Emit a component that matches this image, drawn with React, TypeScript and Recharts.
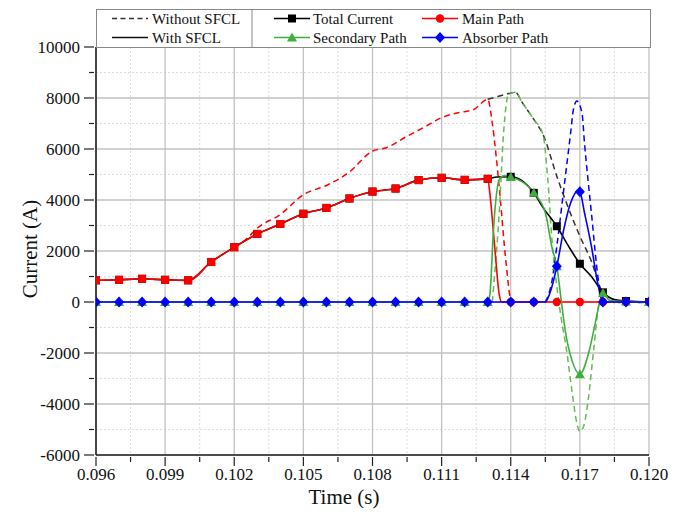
import React from "react";
import { CartesianGrid, Line, LineChart, XAxis, YAxis } from "recharts";

// time (s) / current (A) pairs
const totalWith: [number, number][] = [
  [0.096, 850], [0.097, 870], [0.098, 910], [0.099, 870], [0.1, 850], [0.101, 1570],
  [0.102, 2150], [0.103, 2670], [0.104, 3060], [0.105, 3460], [0.106, 3690], [0.107, 4060],
  [0.108, 4330], [0.109, 4450], [0.11, 4780], [0.111, 4870], [0.112, 4790], [0.113, 4830],
  [0.1134, 4900], [0.114, 4910], [0.115, 4280], [0.1154, 3700], [0.116, 2970], [0.1165, 2200],
  [0.117, 1500], [0.1175, 1000], [0.118, 380], [0.1185, 100], [0.119, 40], [0.12, 0],
];
const mainWith: [number, number][] = [
  [0.096, 850], [0.097, 870], [0.098, 910], [0.099, 870], [0.1, 850], [0.101, 1570],
  [0.102, 2150], [0.103, 2670], [0.104, 3060], [0.105, 3460], [0.106, 3690], [0.107, 4060],
  [0.108, 4330], [0.109, 4450], [0.11, 4780], [0.111, 4870], [0.112, 4790], [0.113, 4830],
  [0.1131, 4200], [0.1133, 2200], [0.1135, 300], [0.1136, 0], [0.114, 0], [0.115, 0],
  [0.116, 0], [0.117, 0], [0.118, 0], [0.119, 0], [0.12, 0],
];
const secondaryWith: [number, number][] = [
  [0.096, 0], [0.097, 0], [0.098, 0], [0.099, 0], [0.1, 0], [0.101, 0], [0.102, 0],
  [0.103, 0], [0.104, 0], [0.105, 0], [0.106, 0], [0.107, 0], [0.108, 0], [0.109, 0],
  [0.11, 0], [0.111, 0], [0.112, 0], [0.113, 0], [0.1131, 350], [0.11325, 2840],
  [0.1135, 4800], [0.1137, 4950], [0.114, 4900], [0.115, 4280], [0.1155, 3500],
  [0.1158, 2100], [0.116, 1400], [0.1162, 0], [0.11636, -1090], [0.11665, -2270],
  [0.117, -2830], [0.11738, -2000], [0.11767, -820], [0.11786, 0], [0.118, 350],
  [0.1183, 60], [0.119, 20], [0.12, 0],
];
const absorberWith: [number, number][] = [
  [0.096, 0], [0.097, 0], [0.098, 0], [0.099, 0], [0.1, 0], [0.101, 0], [0.102, 0],
  [0.103, 0], [0.104, 0], [0.105, 0], [0.106, 0], [0.107, 0], [0.108, 0], [0.109, 0],
  [0.11, 0], [0.111, 0], [0.112, 0], [0.113, 0], [0.114, 0], [0.115, 0], [0.1155, 0],
  [0.1157, 350], [0.116, 1400], [0.1163, 2840], [0.1166, 3890], [0.1169, 4350],
  [0.117, 4320], [0.1172, 3500], [0.1175, 2190], [0.1178, 620], [0.118, 0], [0.119, 0],
  [0.12, 0],
];

const totalWithout: [number, number][] = [
  [0.113, 7950], [0.1134, 8050], [0.114, 8190], [0.1142, 8230], [0.1145, 7820],
  [0.115, 7160], [0.1154, 6570], [0.116, 4930], [0.1165, 3690], [0.117, 2580],
  [0.1175, 1600], [0.118, 350], [0.1185, 80], [0.119, 30], [0.12, 0],
];
const mainWithout: [number, number][] = [
  [0.102, 2150], [0.1025, 2450], [0.103, 2900], [0.104, 3430], [0.105, 4210], [0.106, 4570],
  [0.107, 5100], [0.108, 5920], [0.1086, 6050], [0.1095, 6500], [0.1102, 6830], [0.111, 7230],
  [0.1117, 7420], [0.1124, 7550], [0.113, 7950], [0.1132, 7000], [0.1135, 4500],
  [0.1138, 1500], [0.114, 100], [0.1141, 0],
];
const secondaryWithout: [number, number][] = [
  [0.1132, 0], [0.1135, 3500], [0.1137, 6770], [0.1139, 8140], [0.1142, 8230], [0.1145, 7820],
  [0.115, 7160], [0.1154, 6570], [0.1156, 4900], [0.1158, 2300], [0.116, 600], [0.1162, -700],
  [0.1164, -1750], [0.11665, -3450], [0.11687, -4750], [0.117, -5080], [0.11716, -4880],
  [0.11738, -3700], [0.1176, -1870], [0.11786, 0], [0.1181, 150], [0.1186, -50],
  [0.119, 50], [0.1195, -30], [0.12, 0],
];
const absorberWithout: [number, number][] = [
  [0.1155, 0], [0.1158, 880], [0.116, 2190], [0.1163, 4410], [0.1166, 6640], [0.11672, 7550],
  [0.11687, 7880], [0.11709, 7420], [0.1172, 6240], [0.1175, 3500], [0.1178, 880], [0.118, 0],
];

const majorX = [0.096, 0.099, 0.102, 0.105, 0.108, 0.111, 0.114, 0.117, 0.12];
const minorX = [0.0975, 0.1005, 0.1035, 0.1065, 0.1095, 0.1125, 0.1155, 0.1185];
const majorY = [-6000, -4000, -2000, 0, 2000, 4000, 6000, 8000, 10000];
const minorY = [-5000, -3000, -1000, 1000, 3000, 5000, 7000, 9000];

const RED = "#ff0000";
const BLUE = "#0000ff";
const GREEN = "#3fae3f";
const GREEN_D = "#66bb55";
const BLACK = "#000000";
const FONT = '"Liberation Serif", "Times New Roman", serif';

const toRows = (pts: [number, number][]) => pts.map(([t, v]) => ({ t, v }));
const onMarker = (t: number) => Math.abs(t * 1000 - Math.round(t * 1000)) < 1e-6;
const isMajor = (list: number[], v: number) => list.some((m) => Math.abs(m - v) < 1e-7);

type Shape = "square" | "circle" | "triangle" | "diamond";

function markerEl(shape: Shape, cx: number, cy: number, color: string, key?: string) {
  if (shape === "square")
    return <rect key={key} x={cx - 4} y={cy - 4} width={8} height={8} fill={color} />;
  if (shape === "circle") return <circle key={key} cx={cx} cy={cy} r={4.2} fill={color} />;
  if (shape === "triangle")
    return (
      <polygon key={key} points={`${cx},${cy - 5} ${cx - 5},${cy + 4} ${cx + 5},${cy + 4}`} fill={color} />
    );
  return (
    <polygon key={key} points={`${cx},${cy - 5.5} ${cx + 5},${cy} ${cx},${cy + 5.5} ${cx - 5},${cy}`} fill={color} />
  );
}

const makeDot = (shape: (t: number) => Shape, color: string) => (p: any) => {
  const k = `d-${p.index}`;
  if (!p.payload || !onMarker(p.payload.t) || p.cx == null) return <g key={k} />;
  return markerEl(shape(p.payload.t), p.cx, p.cy, color, k);
};

const labelStyle = { fontFamily: FONT, fontSize: 17, fill: "#111" };

const XTick = (props: any) => {
  const { x, y, payload } = props;
  const major = isMajor(majorX, payload.value);
  return (
    <g>
      <line x1={x} x2={x} y1={y} y2={y + (major ? 9 : 5)} stroke="#222" strokeWidth={1.2} />
      {major && (
        <text x={x} y={y + 23} textAnchor="middle" style={labelStyle}>
          {payload.value.toFixed(3)}
        </text>
      )}
    </g>
  );
};

const YTick = (props: any) => {
  const { x, y, payload } = props;
  const major = isMajor(majorY, payload.value);
  return (
    <g>
      <line x1={x} x2={x - (major ? 10 : 5)} y1={y} y2={y} stroke="#222" strokeWidth={1.2} />
      {major && (
        <text x={x - 14} y={y + 6} textAnchor="end" style={labelStyle}>
          {payload.value}
        </text>
      )}
    </g>
  );
};

function LegendBox() {
  const row1 = 9.5;
  const row2 = 28.5;
  const txt = { style: { fontSize: 15, fontFamily: FONT, fill: "#111" } };
  return (
    <svg
      width={555}
      height={39}
      style={{ position: "absolute", left: 96, top: 8.5, zIndex: 2, background: "#fff" }}
    >
      <rect x={0.5} y={0.5} width={554} height={38} fill="#fff" stroke="#888" />
      <line x1={156} x2={156} y1={0} y2={39} stroke="#888" />
      <line x1={16} x2={52} y1={row1} y2={row1} stroke="#333" strokeWidth={1.5} strokeDasharray="5 3.5" />
      <text x={56} y={row1 + 5} {...txt}>Without SFCL</text>
      <line x1={16} x2={52} y1={row2} y2={row2} stroke="#111" strokeWidth={1.5} />
      <text x={56} y={row2 + 5} {...txt}>With SFCL</text>

      <line x1={178} x2={214} y1={row1} y2={row1} stroke={BLACK} strokeWidth={1.5} />
      {markerEl("square", 196, row1, BLACK)}
      <text x={217} y={row1 + 5} {...txt}>Total Current</text>
      <line x1={326} x2={362} y1={row1} y2={row1} stroke={RED} strokeWidth={1.5} />
      {markerEl("circle", 344, row1, RED)}
      <text x={366} y={row1 + 5} {...txt}>Main Path</text>

      <line x1={178} x2={214} y1={row2} y2={row2} stroke={GREEN} strokeWidth={1.5} />
      {markerEl("triangle", 196, row2, GREEN)}
      <text x={217} y={row2 + 5} {...txt}>Secondary Path</text>
      <line x1={326} x2={362} y1={row2} y2={row2} stroke={BLUE} strokeWidth={1.5} />
      {markerEl("diamond", 344, row2, BLUE)}
      <text x={366} y={row2 + 5} {...txt}>Absorber Path</text>
    </svg>
  );
}

export default function App() {
  const dashed = [
    { data: totalWithout, color: "#333333" },
    { data: mainWithout, color: RED },
    { data: secondaryWithout, color: GREEN_D },
    { data: absorberWithout, color: BLUE },
  ];
  const solid = [
    { data: totalWith, color: BLACK, shape: () => "square" as Shape },
    { data: mainWith, color: RED, shape: (t: number) => (t <= 0.1135 ? "square" : "circle") as Shape },
    { data: secondaryWith, color: GREEN, shape: () => "triangle" as Shape },
    { data: absorberWith, color: BLUE, shape: () => "diamond" as Shape },
  ];
  return (
    <div style={{ position: "absolute", left: 0, top: 0, width: 681, height: 512, background: "#fff" }}>
      <LineChart width={681} height={512} margin={{ top: 47, right: 32, bottom: 0, left: 0 }}>
        <CartesianGrid verticalValues={minorX} horizontalValues={minorY} stroke="#dcdcdc" strokeDasharray="2 2" />
        <CartesianGrid verticalValues={majorX} horizontalValues={majorY} stroke="#c2c2c2" strokeWidth={1.3} />
        <XAxis
          type="number"
          dataKey="t"
          domain={[0.096, 0.12]}
          ticks={[...majorX, ...minorX].sort((a, b) => a - b)}
          interval={0}
          allowDataOverflow
          height={57}
          tickSize={0}
          tickLine={false}
          tick={<XTick />}
          axisLine={{ stroke: "#222", strokeWidth: 1.6 }}
        />
        <XAxis
          xAxisId="top"
          orientation="top"
          type="number"
          domain={[0.096, 0.12]}
          height={0}
          tick={false}
          tickLine={false}
          axisLine={{ stroke: "#222", strokeWidth: 1.6 }}
        />
        <YAxis
          type="number"
          domain={[-6000, 10000]}
          ticks={[...majorY, ...minorY].sort((a, b) => a - b)}
          interval={0}
          allowDataOverflow
          width={96}
          tickSize={0}
          tickLine={false}
          tick={<YTick />}
          axisLine={{ stroke: "#222", strokeWidth: 1.6 }}
        />
        <YAxis
          yAxisId="right"
          orientation="right"
          type="number"
          domain={[-6000, 10000]}
          width={0}
          tick={false}
          tickLine={false}
          axisLine={{ stroke: "#222", strokeWidth: 1.6 }}
        />
        {dashed.map((s, i) => (
          <Line
            key={`dash-${i}`}
            data={toRows(s.data)}
            dataKey="v"
            type="monotone"
            stroke={s.color}
            strokeWidth={1.5}
            strokeDasharray="6 4"
            dot={false}
            activeDot={false}
            isAnimationActive={false}
          />
        ))}
        {solid.map((s, i) => (
          <Line
            key={`solid-${i}`}
            data={toRows(s.data)}
            dataKey="v"
            type="monotone"
            stroke={s.color}
            strokeWidth={1.6}
            dot={makeDot(s.shape, s.color)}
            activeDot={false}
            isAnimationActive={false}
          />
        ))}
      </LineChart>
      <LegendBox />
      <div
        style={{
          position: "absolute",
          left: 344,
          top: 497,
          transform: "translate(-50%, -50%)",
          fontFamily: FONT,
          fontSize: 21,
          whiteSpace: "nowrap",
          color: "#111",
        }}
      >
        Time (s)
      </div>
      <div
        style={{
          position: "absolute",
          left: 30,
          top: 249,
          transform: "translate(-50%, -50%) rotate(-90deg)",
          fontFamily: FONT,
          fontSize: 21,
          whiteSpace: "nowrap",
          color: "#111",
        }}
      >
        Current (A)
      </div>
    </div>
  );
}
